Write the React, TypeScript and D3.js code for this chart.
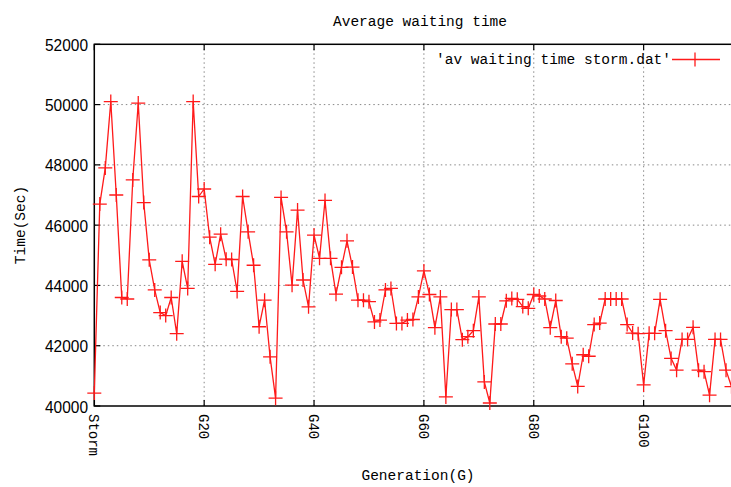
import React from "react";
import * as d3 from "d3";

const waitValues: number[] = [
  40430, 46700, 47900, 50100, 47000, 43600, 43550, 47500, 50050, 46750,
  44850, 43850, 43100, 43000, 43600, 42400, 44800, 43900, 50100, 46950,
  47200, 45600, 44700, 45700, 44870, 44860, 43800, 46950, 45780, 44670,
  42630, 43510, 41630, 40260, 46920, 45780, 44010, 46500, 44180, 43290,
  45670, 44900, 46820, 44900, 43710, 44600, 45480, 44610, 43510, 43510,
  43460, 42790, 42850, 43850, 43900, 42740, 42740, 42850, 42870, 43620,
  44480, 43700, 42600, 43620, 40300, 43200, 43200, 42200, 42300, 42500,
  43620, 40800, 40100, 42720, 42720, 43490, 43570, 43540, 43300, 43240,
  43700, 43650, 43550, 42600, 43500, 42300, 42250, 41400, 40650, 41700,
  41650, 42700, 42750, 43550, 43550, 43550, 43550, 42700, 42420, 42400,
  40700, 42410, 42410, 43540, 42500, 41580, 41190, 42210, 42210, 42610,
  41190, 41140, 40360, 42210, 42210, 41190, 40640,
];
const generations: number[] = waitValues.map((_, i) => i);

const xTickValues: number[] = [0, 20, 40, 60, 80, 100];
const xTickLabels: string[] = ["Storm", "G20", "G40", "G60", "G80", "G100"];
const yTickValues: number[] = [40000, 42000, 44000, 46000, 48000, 50000, 52000];

const titleText = "Average waiting time";
const xLabel = "Generation(G)";
const yLabel = "Time(Sec)";
const legendText = "'av waiting time storm.dat'";

const W = 731;
const H = 487;
const MONO = "'Liberation Mono', 'DejaVu Sans Mono', monospace";
const RED = "#ff1a1a";

export default function App() {
  const x = d3.scaleLinear().domain([0, 120]).range([94.3, 753.5]);
  const y = d3.scaleLinear().domain([40000, 52000]).range([406, 44.3]);
  const left = x(0);
  const right = x(120);
  const top = y(52000);
  const bottom = y(40000);

  const pts = generations.map((g, i) => [x(g), y(waitValues[i])] as [number, number]);
  const line = d3.line<[number, number]>()
    .x((d) => d[0])
    .y((d) => d[1]);
  const path = line(pts) || "";

  const m = 7;

  return (
    <svg
      width={W}
      height={H}
      style={{ position: "absolute", left: 0, top: 0, background: "#fff" }}
    >
      <rect x={0} y={0} width={W} height={H} fill="#fff" />
      {/* grid */}
      {yTickValues
        .filter((v) => v !== 40000 && v !== 52000)
        .map((v) => (
          <line
            key={"gy" + v}
            x1={left}
            x2={right}
            y1={y(v)}
            y2={y(v)}
            stroke="#888"
            strokeWidth={1}
            strokeDasharray="1.5,3"
          />
        ))}
      {xTickValues
        .filter((v) => v !== 0)
        .map((v) => (
          <line
            key={"gx" + v}
            x1={x(v)}
            x2={x(v)}
            y1={top}
            y2={bottom}
            stroke="#888"
            strokeWidth={1}
            strokeDasharray="1.5,3"
          />
        ))}
      {/* ticks */}
      {yTickValues.map((v) => (
        <g key={"ty" + v}>
          <line x1={left} x2={left + 6} y1={y(v)} y2={y(v)} stroke="#000" strokeWidth={1.2} />
          <text
            x={88}
            y={y(v) + 6.5}
            textAnchor="end"
            fontFamily="'Liberation Sans', Arial, sans-serif"
            fontSize={16}
            textLength={43}
            lengthAdjust="spacingAndGlyphs"
            fill="#000"
          >
            {String(v)}
          </text>
        </g>
      ))}
      {xTickValues.map((v, i) => (
        <g key={"tx" + v}>
          <line x1={x(v)} x2={x(v)} y1={bottom} y2={bottom - 6} stroke="#000" strokeWidth={1.2} />
          <line x1={x(v)} x2={x(v)} y1={top} y2={top + 6} stroke="#000" strokeWidth={1.2} />
          <text
            transform={`translate(${x(v)},${bottom + 8}) rotate(90)`}
            dy="0.35em"
            textAnchor="start"
            fontFamily={MONO}
            fontSize={14}
            fill="#000"
          >
            {xTickLabels[i]}
          </text>
        </g>
      ))}
      {/* frame */}
      <rect
        x={left}
        y={top}
        width={right - left}
        height={bottom - top}
        fill="none"
        stroke="#000"
        strokeWidth={1.5}
      />
      {/* data */}
      <path d={path} fill="none" stroke={RED} strokeWidth={1.3} />
      {pts.map((p, i) => (
        <path
          key={"m" + i}
          d={`M${p[0] - m},${p[1]}H${p[0] + m}M${p[0]},${p[1] - m}V${p[1] + m}`}
          stroke={RED}
          strokeWidth={1.3}
          fill="none"
        />
      ))}
      {/* legend */}
      <text x={671} y={64} textAnchor="end" fontFamily={MONO} fontSize={14.5} fill="#000">
        {legendText}
      </text>
      <line x1={672} x2={720} y1={59.5} y2={59.5} stroke={RED} strokeWidth={1.3} />
      <line x1={695} x2={695} y1={52.5} y2={66.5} stroke={RED} strokeWidth={1.3} />
      {/* titles */}
      <text x={420} y={26} textAnchor="middle" fontFamily={MONO} fontSize={14.5} fill="#000">
        {titleText}
      </text>
      <text x={418} y={480} textAnchor="middle" fontFamily={MONO} fontSize={14.5} fill="#000">
        {xLabel}
      </text>
      <text
        transform={`translate(25,225) rotate(-90)`}
        textAnchor="middle"
        fontFamily={MONO}
        fontSize={14.5}
        fill="#000"
      >
        {yLabel}
      </text>
    </svg>
  );
}
